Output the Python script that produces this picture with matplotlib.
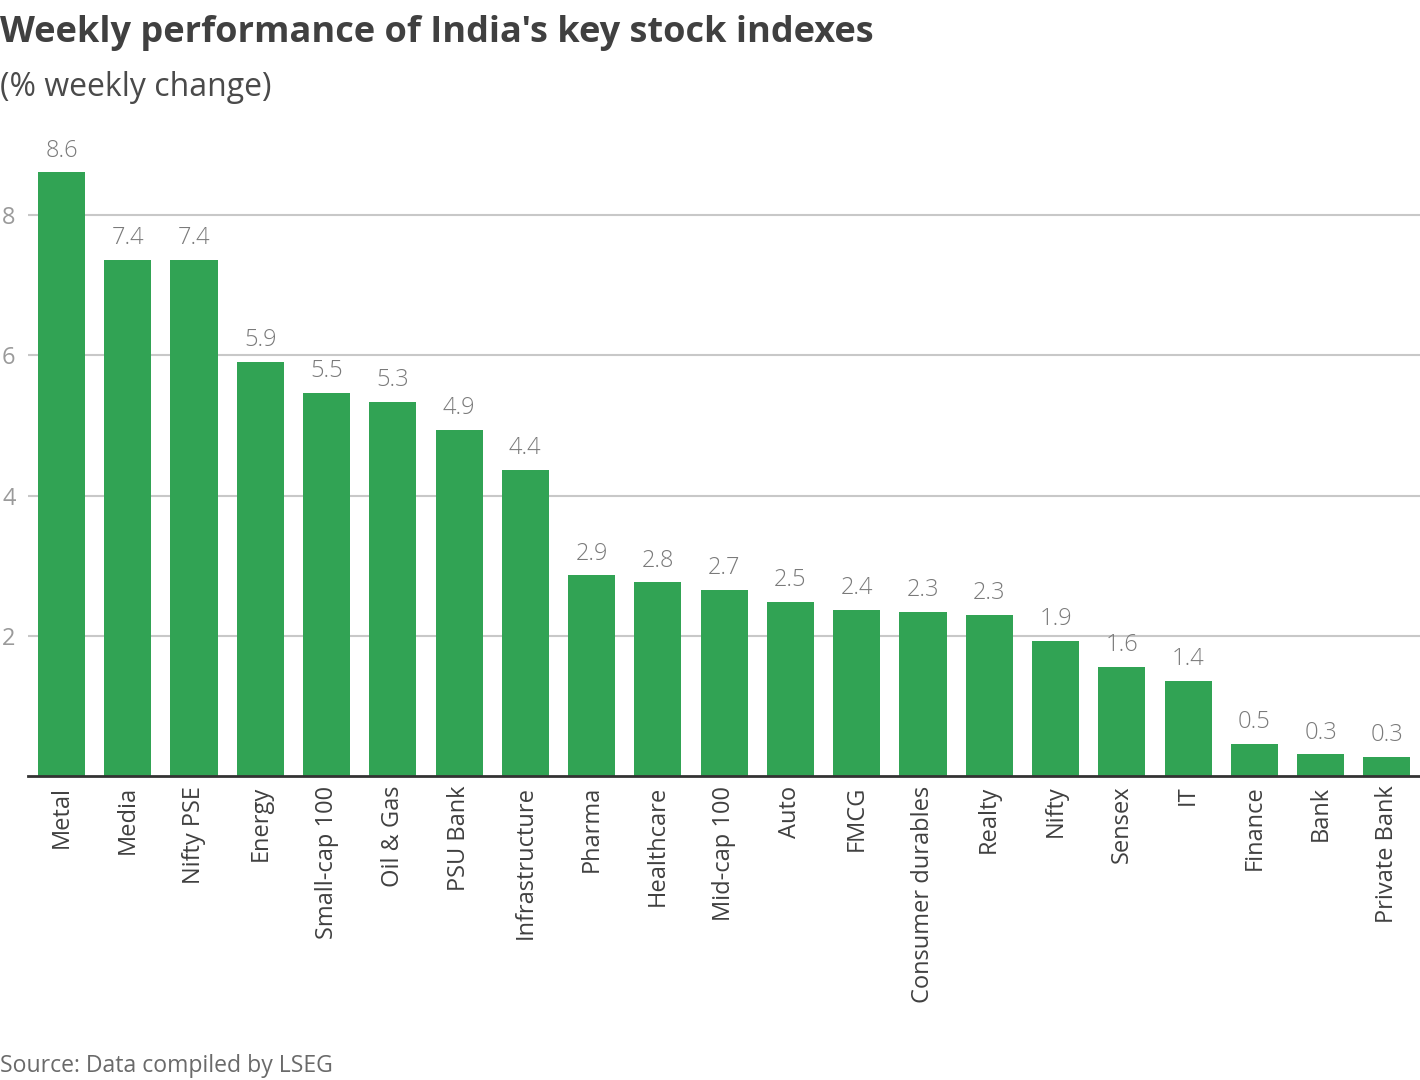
import matplotlib
matplotlib.use("Agg")
import matplotlib.pyplot as plt

# weekly % change
indexes = ["Metal", "Media", "Nifty PSE", "Energy", "Small-cap 100", "Oil & Gas",
           "PSU Bank", "Infrastructure", "Pharma", "Healthcare", "Mid-cap 100",
           "Auto", "FMCG", "Consumer durables", "Realty", "Nifty", "Sensex",
           "IT", "Finance", "Bank", "Private Bank"]
changes = [8.61, 7.36, 7.36, 5.91, 5.46, 5.34, 4.94, 4.37, 2.86, 2.76, 2.66,
           2.48, 2.37, 2.34, 2.30, 1.93, 1.56, 1.36, 0.46, 0.31, 0.27]
yticks = [2, 4, 6, 8]

plt.rcParams['font.family'] = ['Open Sans', 'DejaVu Sans']

fig = plt.figure(figsize=(14.2, 10.8), dpi=100)
ax = fig.add_axes([28 / 1420, 1 - 776 / 1080, 1392 / 1420, (776 - 145) / 1080])

x = list(range(len(indexes)))
bars = ax.bar(x, changes, width=0.71, color="#31a354", zorder=3)

for xi, v in zip(x, changes):
    ax.annotate("{:.1f}".format(v), (xi, v), xytext=(0, 7), textcoords="offset points",
                ha="center", va="bottom", fontsize=17, color="#7a7a7a", fontweight="light")

ax.set_xlim(-0.505, 20.5)
ax.set_ylim(0, 9.0)
ax.set_yticks(yticks)
ax.set_yticklabels([str(t) for t in yticks])
ax.yaxis.grid(True, color="#c8c8c8", linewidth=1.5, zorder=0)
ax.tick_params(axis="y", length=0, pad=9, labelsize=17, labelcolor="#9a9a9a")
ax.set_xticks(x)
ax.set_xticklabels(indexes, rotation=90, fontsize=17, color="#404040")
ax.tick_params(axis="x", length=0, pad=7)
for side in ["top", "right", "left"]:
    ax.spines[side].set_visible(False)
ax.spines["bottom"].set_color("#333333")
ax.spines["bottom"].set_linewidth(2)
ax.spines["bottom"].set_zorder(4)

fig.text(0.0, 1 - 33 / 1080, "Weekly performance of India's key stock indexes",
         fontsize=26, fontweight="bold", color="#404040", va="center", ha="left")
fig.text(0.0, 1 - 88 / 1080, "(% weekly change)", fontsize=23, color="#4a4a4a",
         va="center", ha="left")
fig.text(0.0, 1 - 1066 / 1080, "Source: Data compiled by LSEG", fontsize=16.6,
         color="#6a6a6a", va="center", ha="left")

fig.savefig("out.png", dpi=100)
